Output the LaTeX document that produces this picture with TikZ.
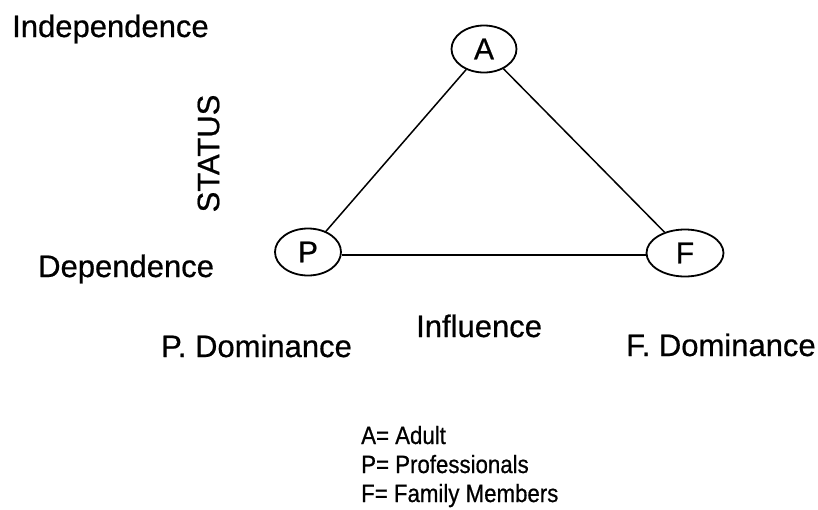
\documentclass[tikz,border=0pt]{standalone}
\usepackage{fontspec}
\setmainfont{Liberation Sans}[FakeBold=0.6]
\usetikzlibrary{shapes.geometric}
\begin{document}
\begin{tikzpicture}[x=1pt,y=-1pt,
  lbl/.style={anchor=base west,inner sep=0pt,font=\fontsize{31}{36}\selectfont\addfontfeatures{FakeBold=0.6}},
  leg/.style={anchor=base west,inner sep=0pt,font=\fontsize{25}{30}\selectfont\addfontfeatures{FakeStretch=0.89,FakeBold=0.6}},
  circ/.style={draw,ellipse,line width=1.8pt,inner sep=0pt,minimum height=47pt,font=\fontsize{30}{36}\selectfont\addfontfeatures{FakeBold=0.6}},
  edge/.style={line width=1.5pt}]
\useasboundingbox (0,0) rectangle (818,509);
\node[circ,minimum width=65pt] (A) at (484,49) {A};
\node[circ,minimum width=66pt] (P) at (308,252) {P};
\node[circ,minimum width=77pt] (F) at (685,253) {F};
\draw[edge] (A) -- (P);
\draw[edge] (A) -- (F);
\draw[edge] ([yshift=-3pt]P.east) -- ([yshift=-2pt]F.west);
\node[lbl] (ind) at (12,37) {Independence};
\node[lbl] (dep) at (38,277) {Dependence};
\node[lbl] (pdom) at (161,357) {P. Dominance};
\node[lbl] (infl) at (416,337) {Influence};
\node[lbl] (fdom) at (626,356) {F. Dominance};
\node[inner sep=0pt,rotate=90,font=\fontsize{31}{36}\selectfont\addfontfeatures{FakeBold=0.6}] (status) at (208.5,153.5) {STATUS};
\node[leg] (la) at (361,444) {A= Adult};
\node[leg] (lp) at (361,473) {P= Professionals};
\node[leg] (lf) at (361,502) {F= Family Members};
\end{tikzpicture}
\end{document}
